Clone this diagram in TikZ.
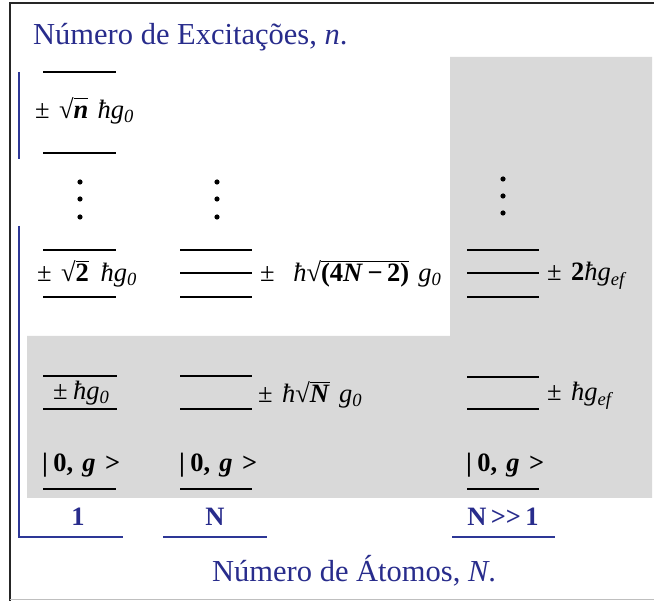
\documentclass[tikz,border=0pt]{standalone}
\usepackage{fontspec}
\setmainfont{Liberation Serif}
\definecolor{navy}{RGB}{40,44,140}
\definecolor{lineblue}{RGB}{45,55,150}
\definecolor{panel}{RGB}{217,217,217}
\newcommand\hb{\textit{ħ}}
\newcommand\gi{\textit{g}}
\newcommand\myrt[1]{√\setbox0\hbox{#1}\rlap{\rule[0.76em]{\wd0}{0.045em}}\box0}
\newcommand\lsub[1]{\textsubscript{\textit{#1}}}
\newcommand\gap{\hspace{0.35em}}
\newcommand\sgap{\hspace{0.2em}}
\newcommand\ket{\textbf{|\sgap0,\gap\textit{g}\gap>}}
\begin{document}
\begin{tikzpicture}[x=1pt,y=-1pt,
  lvl/.style={line width=2.8pt},
  axis/.style={line width=2.6pt,lineblue},
  lab/.style={inner sep=0pt,anchor=west,font=\fontsize{26.5}{30}\selectfont},
  ttl/.style={inner sep=0pt,anchor=base west,text=navy,font=\fontsize{30.5}{34}\selectfont},
  nlab/.style={inner sep=0pt,anchor=center,text=navy,font=\fontsize{26.5}{30}\selectfont\bfseries},
  dotc/.style={fill=black,draw=none}]
\useasboundingbox (0,0) rectangle (654,601);
\fill[white] (0,0) rectangle (654,601);
% frame
\draw[line width=2pt,black!85] (9.5,601) -- (9.5,3) -- (654,3);
\draw[line width=1pt,black!25] (9.5,600) -- (654,600);
% grey panel
\fill[panel] (27,336) -- (450,336) -- (450,57) -- (652,57) -- (652,498) -- (27,498) -- cycle;
% titles
\node[ttl] (t1) at (33,45) {Número de Excitações, \textit{n}.};
\node[ttl] (t2) at (212,582) {Número de Átomos, \textit{N}.};
% blue axes
\draw[axis] (19,72) -- (19,159);
\draw[axis] (19,226) -- (19,537) -- (123,537);
\draw[axis] (163,537) -- (267,537);
\draw[axis] (452,537) -- (555,537);
\node[nlab] (n1) at (78,517) {1};
\node[nlab] (n2) at (215,517) {N};
\node[nlab] (n3) at (503,517) {N\,>{}>\,1};
% column 1 levels
\draw[lvl] (43,72) -- (116,72);
\draw[lvl] (43,153) -- (116,153);
\node[lab] (l1n) at (35,111) {±\gap\myrt{\textbf{\textit{n}}}\gap\hb\gi\lsub{0}};
\foreach \yy in {182,199,217} \fill[dotc] (80,\yy) circle (2.6);
\draw[lvl] (43,250) -- (116,250);
\draw[lvl] (43,297) -- (116,297);
\node[lab] (l12) at (37,274) {±\gap\myrt{\textbf{2}}\hspace{0.45em}\hb\gi\lsub{0}};
\draw[lvl] (43,376) -- (117,376);
\draw[lvl] (43,409) -- (117,409);
\node[lab] (l11) at (53,393) {±\sgap\hb\gi\lsub{0}};
\node[lab] (g1) at (42,465) {\ket};
\draw[lvl] (43,489) -- (116,489);
% column 2 levels
\foreach \yy in {182,199,217} \fill[dotc] (217,\yy) circle (2.6);
\draw[lvl] (180,250) -- (252,250);
\draw[lvl] (180,273) -- (252,273);
\draw[lvl] (180,297) -- (252,297);
\node[lab] (l22) at (260,274) {±\gap\gap\hb\myrt{\textbf{(4\textit{N}\,−\,2)}}\gap\gi\lsub{0}};
\draw[lvl] (180,376) -- (252,376);
\draw[lvl] (180,409) -- (252,409);
\node[lab] (l21) at (258,395) {±\gap\hb\myrt{\textbf{\textit{N}}}\gap\gi\lsub{0}};
\node[lab] (g2) at (179,465) {\ket};
\draw[lvl] (180,489) -- (252,489);
% column 3 levels
\foreach \yy in {179,196,213} \fill[dotc] (503,\yy) circle (2.6);
\draw[lvl] (467,250) -- (539,250);
\draw[lvl] (467,273) -- (539,273);
\draw[lvl] (467,297) -- (539,297);
\node[lab] (l32) at (547,276) {±\gap\textbf{2}\hb\gi\lsub{ef}};
\draw[lvl] (467,377) -- (539,377);
\draw[lvl] (467,409) -- (539,409);
\node[lab] (l31) at (547,396) {±\gap\hb\gi\lsub{ef}};
\node[lab] (g3) at (466,465) {\ket};
\draw[lvl] (467,489) -- (539,489);
\end{tikzpicture}
\end{document}
